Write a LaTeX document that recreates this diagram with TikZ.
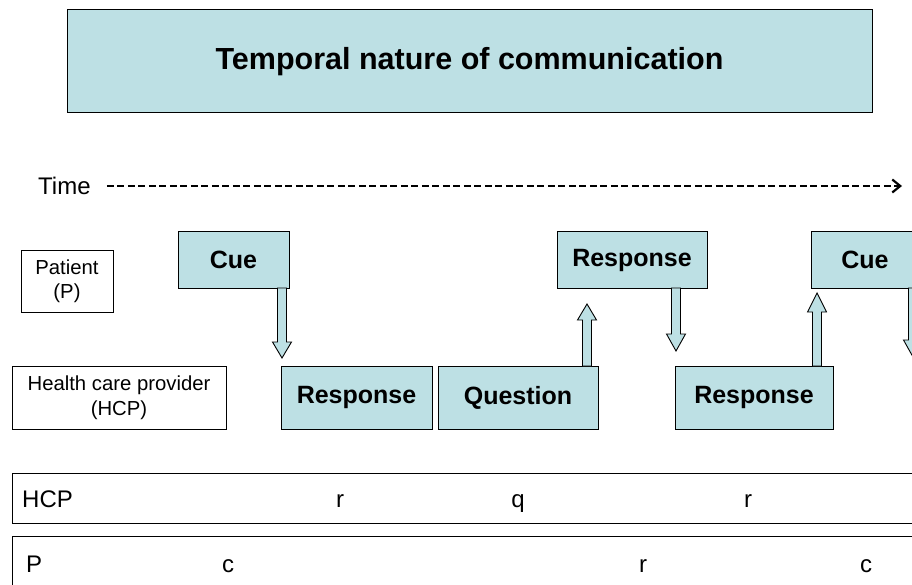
\documentclass[tikz,border=0pt]{standalone}
\usepackage{fontspec}
\setmainfont{Liberation Sans}
\usetikzlibrary{calc,arrows.meta}
\definecolor{lblue}{RGB}{189,224,228}
\newcommand\blkarrow[3]{%
  \draw[blk] let \p1=(#1), \p2=(#2) in
    (\x1-4.5pt,\y1) -- (\x1+4.5pt,\y1) -- ({\x1+4.5pt},{\y2+(#3)}) --
    ({\x1+9.5pt},{\y2+(#3)}) -- (\x1,\y2) -- ({\x1-9.5pt},{\y2+(#3)}) --
    ({\x1-4.5pt},{\y2+(#3)}) -- cycle;}
\tikzset{
  bluebox/.style={draw=black, fill=lblue, line width=1pt, inner sep=0pt, outer sep=0pt,
    font=\fontsize{25}{29}\selectfont\bfseries},
  whitebox/.style={draw=black, fill=white, line width=0.9pt, inner sep=0pt, outer sep=0pt,
    align=center, font=\fontsize{20.3}{24.5}\selectfont},
  rowbox/.style={draw=black, fill=white, line width=1pt, inner sep=0pt, outer sep=0pt,
    anchor=north west},
  rowtext/.style={inner sep=0pt, anchor=base, font=\fontsize{24}{28}\selectfont},
  blk/.style={draw=black, fill=lblue, line width=0.9pt, line join=miter},
  timeline/.style={line width=2.2pt, dash pattern=on 7pt off 3.5pt,
    -{Straight Barb[length=8pt,width=13pt,line width=2.2pt]}}
}
\begin{document}
\begin{tikzpicture}[x=1pt,y=-1pt]
\useasboundingbox (0,0) rectangle (912,585);
\clip (0,0) rectangle (912,585);
\fill[white] (0,0) rectangle (912,585);

% title
\node[bluebox, minimum width=805, minimum height=103,
  font=\fontsize{30.5}{35}\selectfont\bfseries] (title) at (469.5,61.5) {Temporal nature of communication};

% time axis
\node[rowtext, anchor=base west] (time) at (38,194.5) {Time};
\coordinate (tend) at (902,186);
\draw[timeline] ($(time.base east)+(16,-8.5)$) -- (tend);

% participant labels
\node[whitebox, minimum width=92, minimum height=62] (patient) at (67,281) {Patient\\(P)};
\node[whitebox, minimum width=214, minimum height=63] (hcp) at (119,397.5) {Health care provider\\(HCP)};

% patient turns
\node[bluebox, minimum width=111, minimum height=56] (cue1) at (233.5,260) {Cue};
\node[bluebox, minimum width=150, minimum height=56] (resp2) at (632,260) {Response};
\node[bluebox, minimum width=108, minimum height=56] (cue2) at (865,260) {Cue};

% HCP turns
\node[bluebox, minimum width=151, minimum height=63] (resp1) at (356.5,397.5) {Response};
\node[bluebox, minimum width=160, minimum height=63] (quest) at (518,397.5) {Question};
\node[bluebox, minimum width=158, minimum height=63] (resp3) at (754,397.5) {Response};

% block arrows
\blkarrow{$(cue1.south east)+(-7,0)$}{$(resp1.north west)+(1,-8)$}{16pt}
\blkarrow{$(quest.north east)+(-11,0)$}{$(resp2.south west)+(30,16)$}{-16pt}
\blkarrow{$(resp2.south east)+(-31,0)$}{$(resp3.north west)+(1,-15)$}{17pt}
\blkarrow{$(resp3.north east)+(-16,0)$}{$(cue2.south west)+(6,5)$}{-19pt}
\blkarrow{$(cue2.south west)+(102,0)$}{$(cue2.south west)+(102,69)$}{17pt}

% coding rows
\node[rowbox, minimum width=940, minimum height=50] (hcprow) at (12,473) {};
\node[rowbox, minimum width=940, minimum height=70] (prow) at (12,536) {};

\node[rowtext, anchor=base west] (hcplab) at (22,507.5) {HCP};
\node[rowtext] (h1) at (340,507.5) {r};
\node[rowtext] (h2) at (518,507.5) {q};
\node[rowtext] (h3) at (748,507.5) {r};

\node[rowtext, anchor=base west] (plab) at (26,572) {P};
\node[rowtext] (p1) at (228,572) {c};
\node[rowtext] (p2) at (643,572) {r};
\node[rowtext] (p3) at (866,572) {c};
\end{tikzpicture}
\end{document}
